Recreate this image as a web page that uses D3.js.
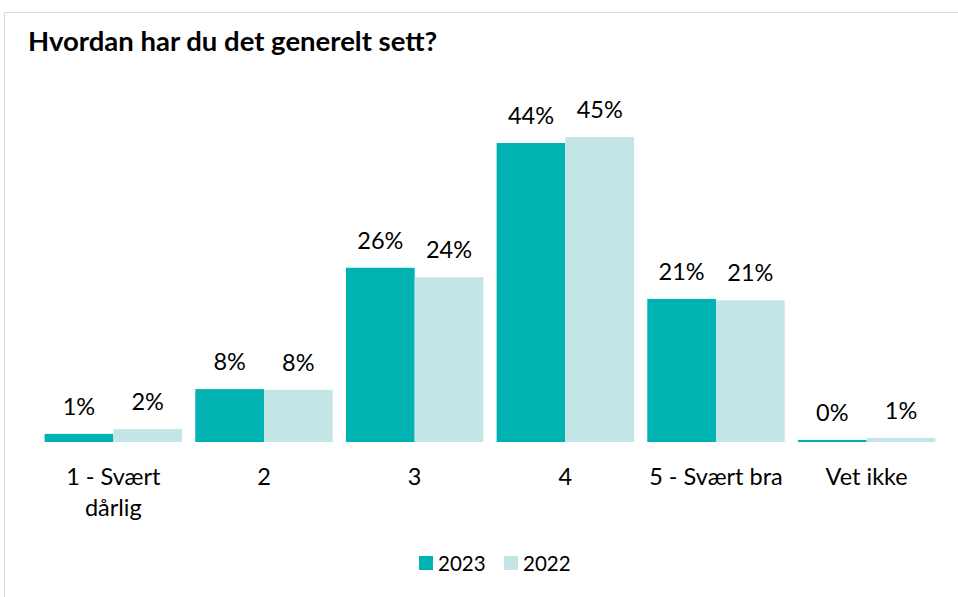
<!DOCTYPE html>
<html lang="no">
<head>
  <meta charset="UTF-8">
  <title>Hvordan har du det generelt sett?</title>
  <script src="https://d3js.org/d3.v7.min.js"></script>
  <style>
    body { margin: 0; background: #fff; }
    text { font-family: Lato, "Open Sans", sans-serif; fill: #000; }
  </style>
</head>
<body>

<svg id="chart" width="958" height="597"></svg>

<script>
  // values (percent)
  var categories = ['1 - Svært dårlig', '2', '3', '4', '5 - Svært bra', 'Vet ikke'];
  var categoryLines = [['1 - Svært', 'dårlig'], ['2'], ['3'], ['4'], ['5 - Svært bra'], ['Vet ikke']];
  var years = ['2023', '2022'];
  var values2023 = [1.2, 7.8, 25.7, 44.1, 21.1, 0.3];
  var values2022 = [1.9, 7.7, 24.3, 45.0, 20.9, 0.6];
  var colors = ['#00b2b2', '#c3e5e6'];

  var svg = d3.select('#chart');

  // frame
  svg.append('path')
    .attr('d', 'M4.5,597 V12.5 H958')
    .attr('fill', 'none')
    .attr('stroke', '#d9d9d9')
    .attr('stroke-width', 1);

  svg.append('text')
    .attr('x', 28)
    .attr('y', 51)
    .style('font-size', '27.5px')
    .style('font-weight', 'bold')
    .text('Hvordan har du det generelt sett?');

  var x = d3.scaleBand()
    .domain(categories)
    .range([38, 942])
    .paddingInner(0.088)
    .paddingOuter(0.044);

  var xs = d3.scaleBand()
    .domain(years)
    .range([0, x.bandwidth()]);

  var y = d3.scaleLinear()
    .domain([0, 50])
    .range([442, 103]);

  var rows = categories.map(function (c, i) {
    return { cat: c, vals: [values2023[i], values2022[i]] };
  });

  var groups = svg.selectAll('g.grp')
    .data(rows)
    .enter()
    .append('g')
    .attr('class', 'grp')
    .attr('transform', function (d) { return 'translate(' + x(d.cat) + ',0)'; });

  var bars = groups.selectAll('g.bar')
    .data(function (d) { return d.vals.map(function (v, j) { return { year: years[j], v: v, j: j }; }); })
    .enter()
    .append('g')
    .attr('class', 'bar');

  bars.append('rect')
    .attr('x', function (d) { return xs(d.year); })
    .attr('y', function (d) { return y(d.v); })
    .attr('width', xs.bandwidth())
    .attr('height', function (d) { return y(0) - y(d.v); })
    .attr('fill', function (d) { return colors[d.j]; });

  bars.append('text')
    .attr('x', function (d) { return xs(d.year) + xs.bandwidth() / 2; })
    .attr('y', function (d) { return y(d.v) - 19; })
    .attr('text-anchor', 'middle')
    .style('font-size', '23.5px')
    .text(function (d) { return Math.round(d.v) + '%'; });

  // category labels
  var xAxis = svg.append('g');
  categories.forEach(function (c, i) {
    var t = xAxis.append('text')
      .attr('x', x(c) + x.bandwidth() / 2)
      .attr('y', 485)
      .attr('text-anchor', 'middle')
      .style('font-size', '23.5px');
    categoryLines[i].forEach(function (line, k) {
      t.append('tspan')
        .attr('x', x(c) + x.bandwidth() / 2)
        .attr('dy', k === 0 ? 0 : 31)
        .text(line);
    });
  });

  // legend
  var legendX = [419, 504];
  var legend = svg.selectAll('g.legend')
    .data(years)
    .enter()
    .append('g')
    .attr('class', 'legend')
    .attr('transform', function (d, i) { return 'translate(' + legendX[i] + ',556)'; });

  legend.append('rect')
    .attr('width', 14)
    .attr('height', 14)
    .attr('fill', function (d, i) { return colors[i]; });

  legend.append('text')
    .attr('x', 19)
    .attr('y', 14.5)
    .style('font-size', '20.5px')
    .text(function (d) { return d; });
</script>

</body>
</html>
